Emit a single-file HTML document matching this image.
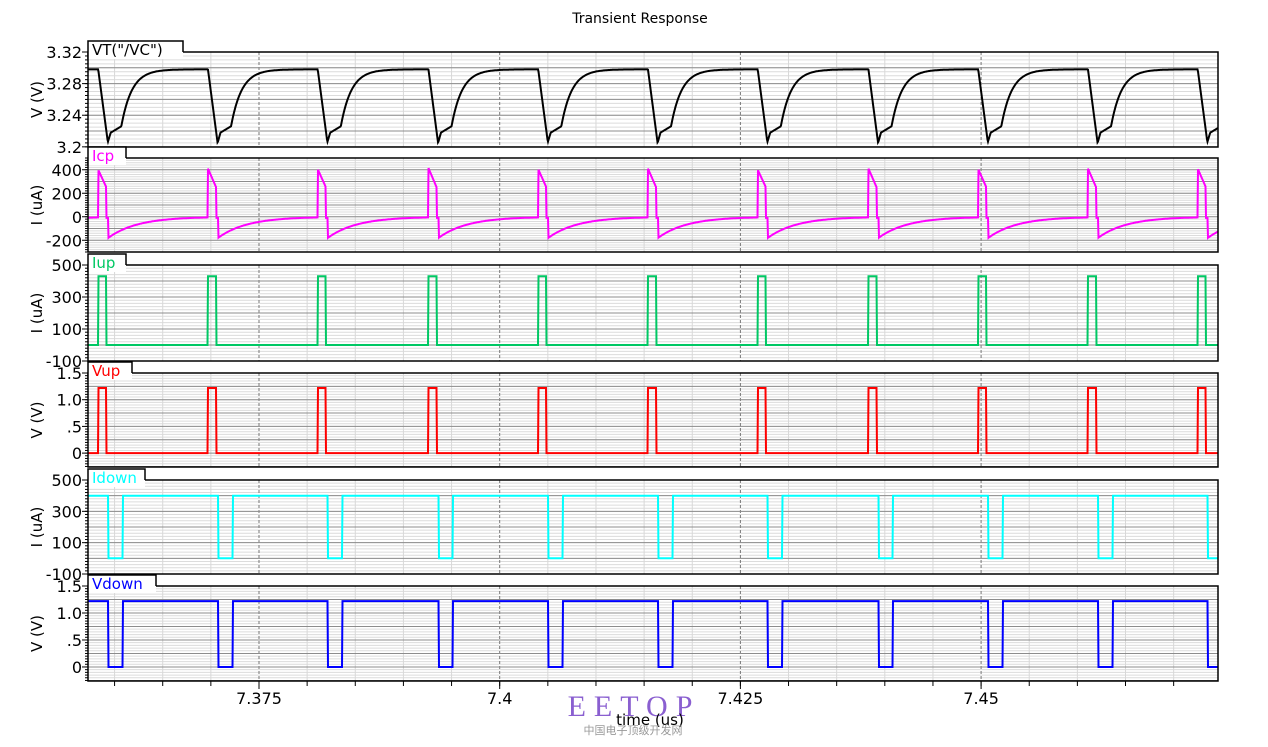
<!DOCTYPE html>
<html><head><meta charset="utf-8"><style>
body{margin:0;background:#fff;width:1268px;height:742px;overflow:hidden;font-family:"Liberation Sans","DejaVu Sans",sans-serif}
svg text{font-family:"DejaVu Sans","Liberation Sans",sans-serif}
</style></head><body>
<svg id="c" width="1268" height="742" xmlns="http://www.w3.org/2000/svg"></svg>
<script>
const xTickLabels=["7.375","7.4","7.425","7.45"];
const xTickValues=[7.375,7.4,7.425,7.45];
const pulseStarts=[7.3583,7.3697,7.3811,7.3926,7.4040,7.4154,7.4268,7.4383,7.4497,7.4611,7.4725];
const upWidths=[0.00085,0.00085,0.00085,0.00085,0.00085,0.00085,0.00085,0.00085,0.00085,0.00085,0.00085];
const downWidths=[0.0015,0.0015,0.0015,0.0015,0.0015,0.0015,0.0015,0.0015,0.0015,0.0015,0.0015];
const vtMins=[3.206,3.205,3.206,3.205,3.206,3.205,3.206,3.205,3.206,3.205,3.206];
const icpPeaks=[400,410,405,415,405,410,400,410,405,410,410];
const vupHigh=1.22, iupHigh=430, idownHigh=400, vdownHigh=1.22, vtHigh=3.298;

const X0=88,X1=1218,T0=7.35724,PX=9628;
const sx=t=>X0+(t-T0)*PX;
const svg=document.getElementById('c');
const NS='http://www.w3.org/2000/svg';
function mk(tag,at,parent){const e=document.createElementNS(NS,tag);for(const k in at)e.setAttribute(k,at[k]);(parent||svg).appendChild(e);return e;}

const panels=[
 {name:'VT("/VC")',key:'vt',color:'#000',top:52,bot:147,vTop:3.32,vBot:3.1998,major:0.02,minor:0.005,labels:[[3.32,'3.32'],[3.28,'3.28'],[3.24,'3.24'],[3.2,'3.2']],unit:'V (V)',tab:95},
 {name:'Icp',key:'icp',color:'#ff00ff',top:158,bot:252,vTop:500,vBot:-300,major:100,minor:20,labels:[[400,'400'],[200,'200'],[0,'0'],[-200,'-200']],unit:'I (uA)',tab:38},
 {name:'Iup',key:'iup',color:'#00c864',top:265,bot:361,vTop:500,vBot:-100,major:100,minor:20,labels:[[500,'500'],[300,'300'],[100,'100'],[-100,'-100']],unit:'I (uA)',tab:38},
 {name:'Vup',key:'vup',color:'#ff0000',top:373,bot:467,vTop:1.5,vBot:-0.26,major:0.25,minor:0.05,labels:[[1.5,'1.5'],[1.0,'1.0'],[0.5,'.5'],[0,'0']],unit:'V (V)',tab:44},
 {name:'Idown',key:'idown',color:'#00ffff',top:480,bot:574,vTop:500,vBot:-100,major:100,minor:20,labels:[[500,'500'],[300,'300'],[100,'100'],[-100,'-100']],unit:'I (uA)',tab:57},
 {name:'Vdown',key:'vdown',color:'#0000ff',top:586,bot:681,vTop:1.5,vBot:-0.26,major:0.25,minor:0.05,labels:[[1.5,'1.5'],[1.0,'1.0'],[0.5,'.5'],[0,'0']],unit:'V (V)',tab:68}
];

const title=mk('text',{x:640,y:23,'text-anchor':'middle','font-size':14,fill:'#000'});


title.textContent='Transient Response';

function wave(key,t){
 let i=-1;for(let k=0;k<pulseStarts.length;k++)if(t>=pulseStarts[k])i=k;
 if(i<0){const ps=pulseStarts[0]-0.01142;return waveAt(key,t,ps,0);}
 return waveAt(key,t,pulseStarts[i],i);
}
function waveAt(key,t,s,i){
 const d=t-s,uw=upWidths[i],ds=uw+0.0002,dw=downWidths[i];
 if(key==='vup')return d<uw?vupHigh:0;
 if(key==='iup')return d<uw?iupHigh:0;
 if(key==='vdown')return (d>=ds&&d<ds+dw)?0:vdownHigh;
 if(key==='idown')return (d>=ds&&d<ds+dw)?0:idownHigh;
 if(key==='vt'){const m=vtMins[i];
   if(d<0.001)return vtHigh+(m-vtHigh)*d/0.001;
   if(d<0.0013)return m+(3.218-m)*(d-0.001)/0.0003;
   if(d<0.0024)return 3.218+(3.226-3.218)*(d-0.0013)/0.0011;
   return vtHigh-(vtHigh-3.226)*Math.exp(-(d-0.0024)/0.0011);}
 if(key==='icp'){const p=icpPeaks[i];
   if(d<uw)return p-(p-250)*d/uw;
   if(d<ds)return -10;
   return -180*Math.exp(-(d-ds)/0.003);}
}

panels.forEach((p,pi)=>{
 const g=mk('g',{});
 
 
 const sy=v=>p.top+(p.vTop-v)/(p.vTop-p.vBot)*(p.bot-p.top);
 for(let v=Math.ceil(p.vBot/p.minor)*p.minor;v<=p.vTop+1e-9;v+=p.minor){
   const y=sy(v);mk('line',{x1:X0,x2:X1,y1:y,y2:y,stroke:'#dcdcdc','stroke-width':1},g);}
 for(let t=7.36;t<7.4745;t+=0.005){const x=sx(t);
   const maj=Math.abs(Math.round(t/0.025)*0.025-t)<1e-6;
   mk('line',{x1:x,x2:x,y1:p.top,y2:p.bot,stroke:maj?'#777':'#d8d8d8','stroke-width':1,'stroke-dasharray':maj?'3,2':''},g);}
 for(let v=Math.ceil(p.vBot/p.major-1e-9)*p.major;v<=p.vTop+1e-9;v+=p.major){
   const y=sy(v);mk('line',{x1:X0,x2:X1,y1:y,y2:y,stroke:'#8c8c8c','stroke-width':1},g);}
 let d='';
 for(let x=X0;x<=X1;x+=0.5){const t=T0+(x-X0)/PX;let v=wave(p.key,t);
   v=Math.max(p.vBot,Math.min(p.vTop,v));d+=(d?'L':'M')+x.toFixed(1)+','+sy(v).toFixed(1);}
 const tr=mk('path',{d:d,fill:'none',stroke:p.color,'stroke-width':2},g);
 
 
 mk('rect',{x:X0,y:p.top,width:X1-X0,height:p.bot-p.top,fill:'none',stroke:'#000','stroke-width':1.5},g);
 for(let v=Math.ceil(p.vBot/p.minor)*p.minor;v<=p.vTop+1e-9;v+=p.minor){const y=sy(v);mk('line',{x1:X0-3,x2:X0,y1:y,y2:y,stroke:'#000'},g);}
 p.labels.forEach(([v,l])=>{const y=sy(v);mk('line',{x1:X0-6,x2:X0,y1:y,y2:y,stroke:'#000'},g);
   const tx=mk('text',{x:X0-6,y:y+6,'text-anchor':'end','font-size':16,fill:'#000'},g);
   
   
   tx.textContent=l;});
 const cy=(p.top+p.bot)/2;
 const ut=mk('text',{x:0,y:0,transform:`translate(42,${cy}) rotate(-90)`,'text-anchor':'middle','font-size':15,fill:'#000'},g);
 
 
 ut.textContent=p.unit;
 // tab: white box covering frame top, open at bottom
 mk('rect',{x:X0,y:p.top-11,width:p.tab,height:18,fill:'#fff'},g);
 mk('path',{d:`M${X0},${p.top+7}V${p.top-11}H${X0+p.tab}V${p.top}`,fill:'none',stroke:'#000','stroke-width':1.5},g);
 const lt=mk('text',{x:X0+4,y:p.top+3,'font-size':15,fill:p.color},g);
 
 
 lt.textContent=p.name;
});
const B=681;
for(let t=7.36;t<7.4745;t+=0.005){const x=sx(t);mk('line',{x1:x,x2:x,y1:B,y2:B+5,stroke:'#000'});}
xTickValues.forEach((v,i)=>{const x=sx(v);mk('line',{x1:x,x2:x,y1:B,y2:B+8,stroke:'#000'});
 const tx=mk('text',{x:x,y:B+23,'text-anchor':'middle','font-size':16,fill:'#000'});
 
 
 tx.textContent=xTickLabels[i];});
const wm=mk('text',{x:634,y:716,'text-anchor':'middle','font-size':30,fill:'#8a5fd0','letter-spacing':'8',style:'font-family:"Liberation Serif",serif'});


wm.textContent='EETOP';
const xt=mk('text',{x:650,y:725,'text-anchor':'middle','font-size':15,fill:'#000'});


xt.textContent='time (us)';
const cn=mk('text',{x:633,y:734,'text-anchor':'middle','font-size':11,fill:'#999',style:'font-family:"Noto Sans CJK SC",sans-serif'});


cn.textContent='中国电子顶级开发网';
</script>
</body></html>
